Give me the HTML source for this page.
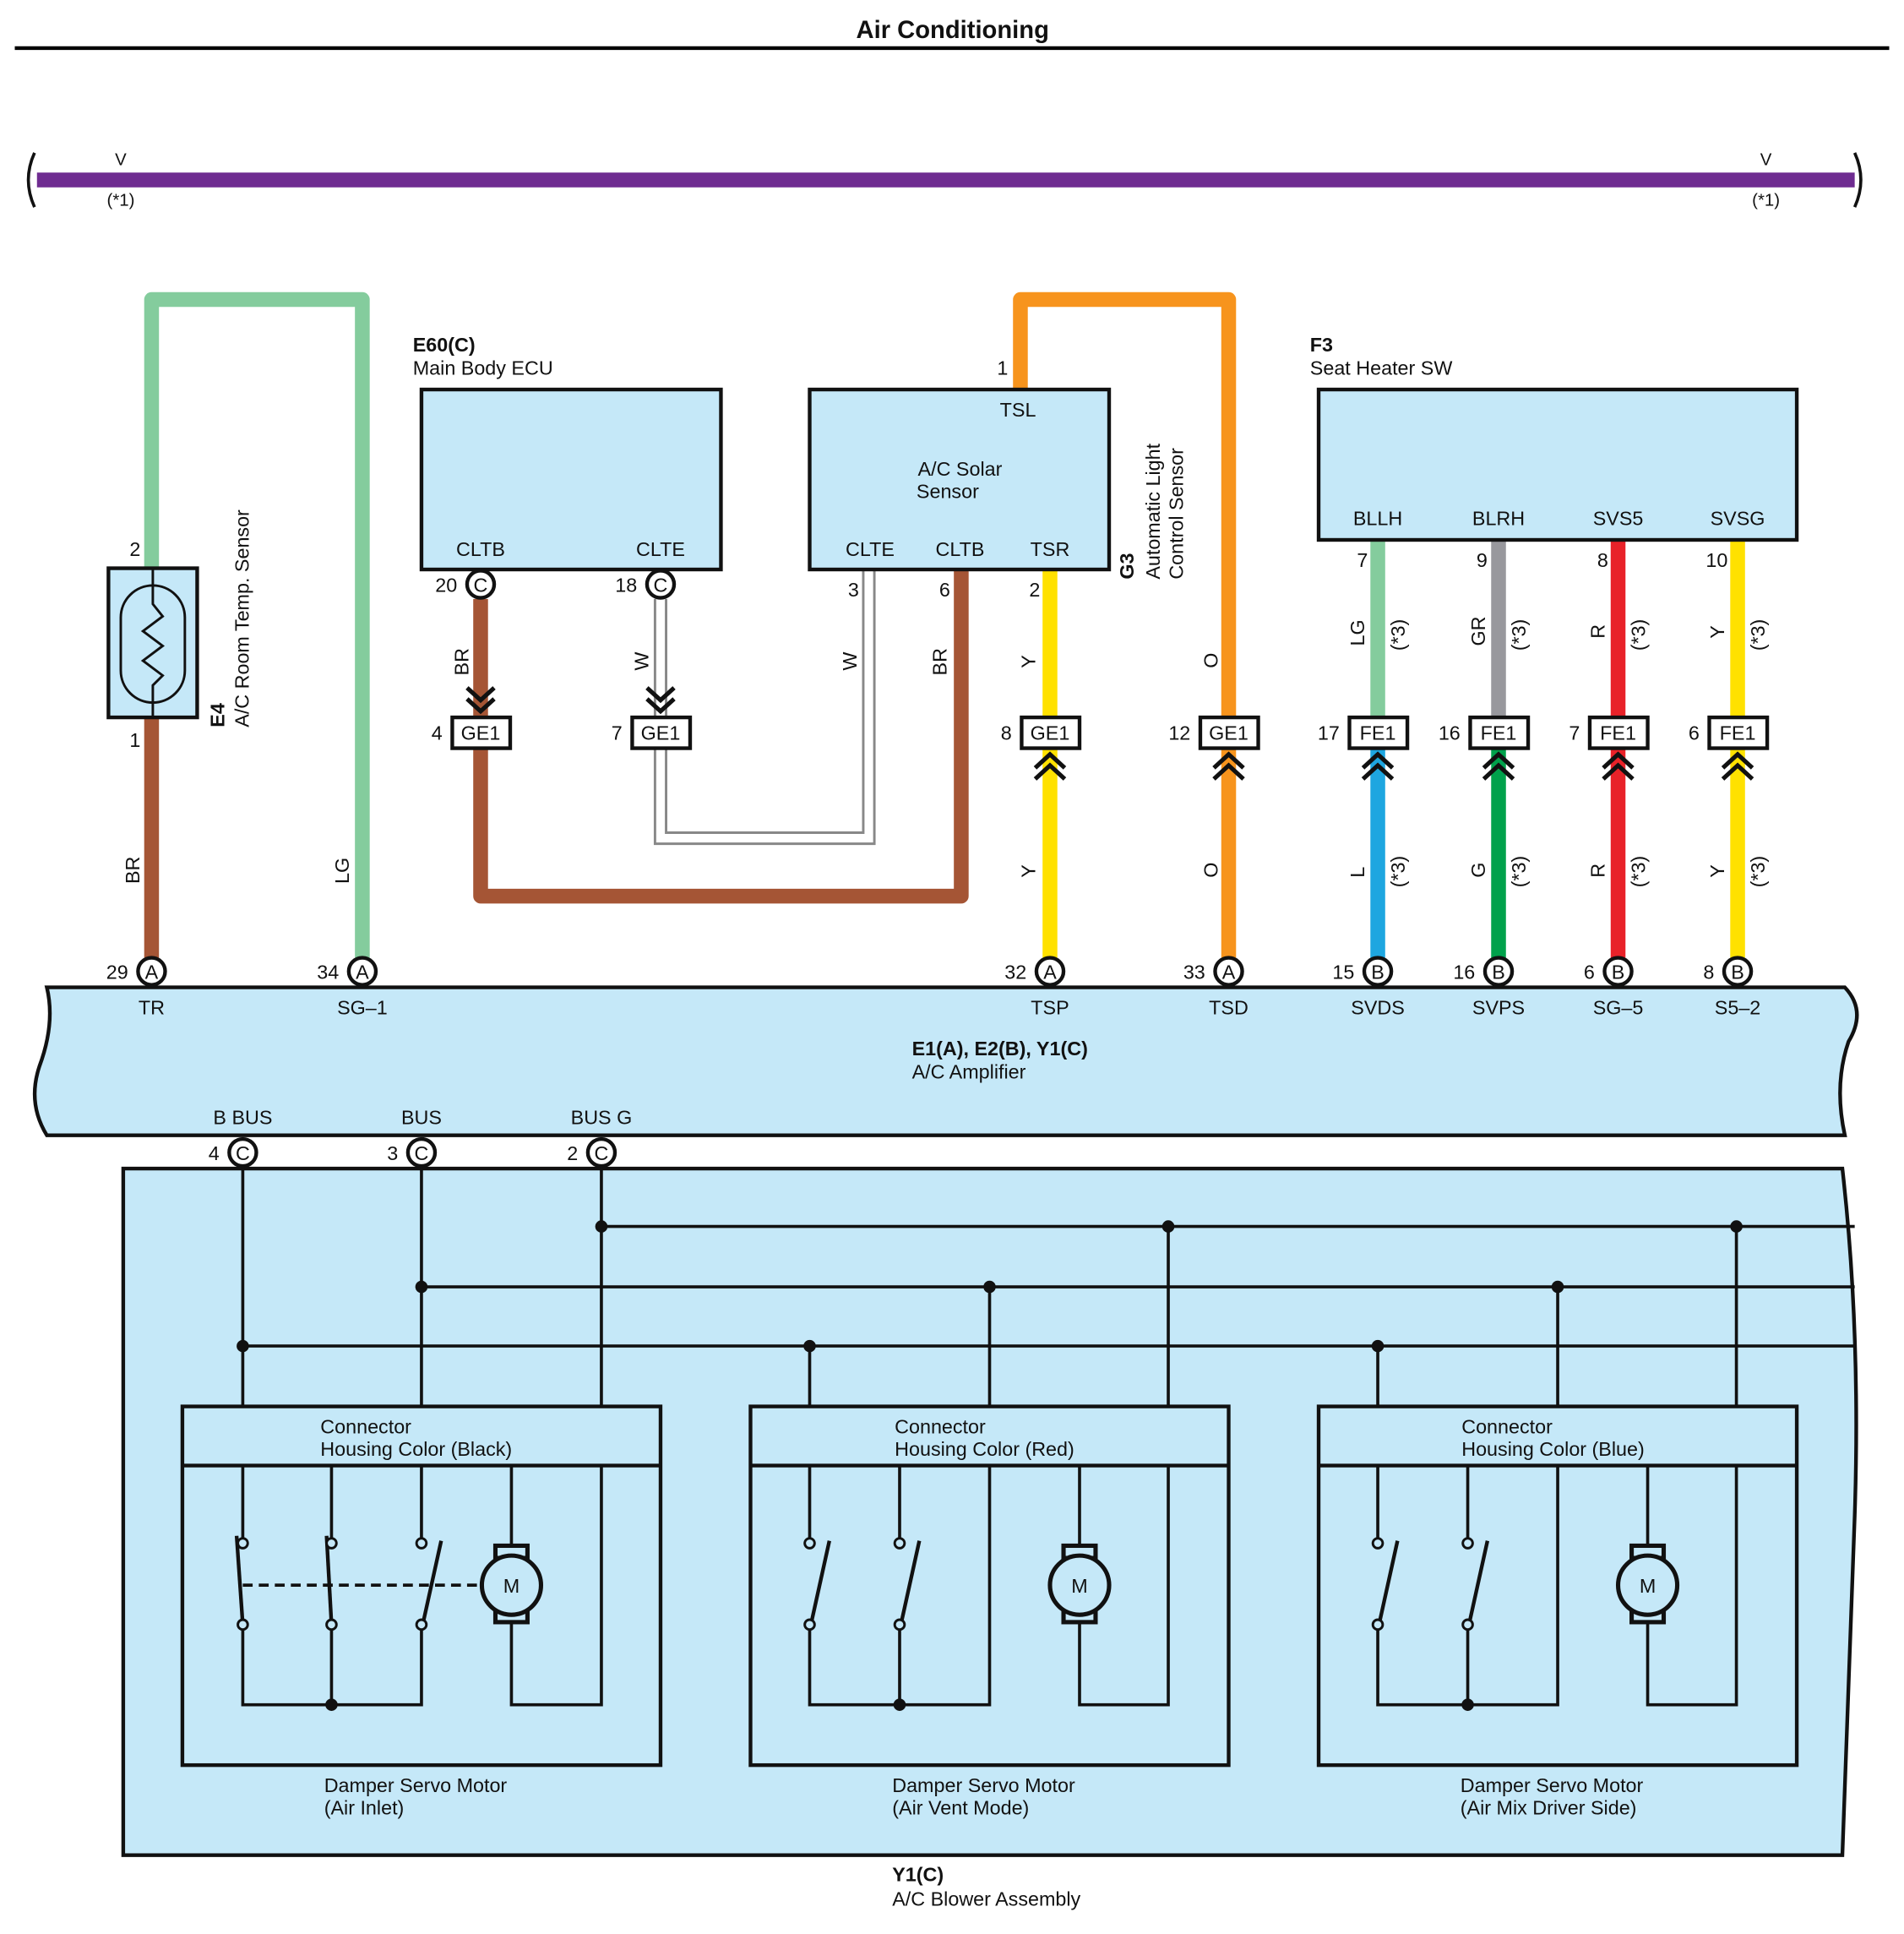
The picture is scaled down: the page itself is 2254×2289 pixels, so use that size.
<!DOCTYPE html>
<html><head><meta charset="utf-8"><style>
html,body{margin:0;padding:0;background:#fff}
svg{display:block}
text{font-family:"Liberation Sans",sans-serif;font-size:16px;fill:#111}
.b{font-weight:bold}
.m{text-anchor:middle}
.e{text-anchor:end}
</style></head><body>
<svg width="2254" height="2289" viewBox="0 0 1545 1569" xmlns="http://www.w3.org/2000/svg">
<text x="773" y="31" class="b m" style="font-size:20px">Air Conditioning</text>
<line x1="12" y1="39" x2="1533" y2="39" stroke="#000" stroke-width="3"/>
<!-- purple bus -->
<line x1="30" y1="146" x2="1505" y2="146" stroke="#6f2c91" stroke-width="12"/>
<path d="M28,124 Q18,146 28,168" fill="none" stroke="#111" stroke-width="2.5"/>
<path d="M1505,124 Q1515,146 1505,168" fill="none" stroke="#111" stroke-width="2.5"/>
<text x="98" y="134" class="m" style="font-size:14px">V</text>
<text x="98" y="167" class="m" style="font-size:14px">(*1)</text>
<text x="1433" y="134" class="m" style="font-size:14px">V</text>
<text x="1433" y="167" class="m" style="font-size:14px">(*1)</text>

<!-- wires -->
<g fill="none" stroke-width="12" stroke-linejoin="round">
<path d="M123,461 V243 H294 V788" stroke="#84cc9d"/>
<path d="M123,582 V788" stroke="#a55535"/>
<path d="M828,316 V243 H997 V788" stroke="#f7941d"/>
<path d="M852,462 V788" stroke="#ffe100"/>
<path d="M390,486 V582" stroke="#a55535"/>
<path d="M390,607 V727 H780 V462" stroke="#a55535"/>
<path d="M1118,438 V582" stroke="#84cc9d"/>
<path d="M1216,438 V582" stroke="#98989d"/>
<path d="M1313,438 V582" stroke="#e82229"/>
<path d="M1410,438 V582" stroke="#ffe100"/>
<path d="M1118,607 V788" stroke="#1ea6e0"/>
<path d="M1216,607 V788" stroke="#00a14b"/>
<path d="M1313,607 V788" stroke="#e82229"/>
<path d="M1410,607 V788" stroke="#ffe100"/>
</g>
<g fill="none">
<path d="M536,486 V582" stroke="#888" stroke-width="11"/>
<path d="M536,486 V582" stroke="#fff" stroke-width="7"/>
<path d="M536,607 V680 H705 V462" stroke="#888" stroke-width="11"/>
<path d="M536,607 V680 H705 V462" stroke="#fff" stroke-width="7"/>
</g>

<!-- E4 sensor -->
<rect x="88" y="461" width="72" height="121" fill="#c5e8f8" stroke="#111" stroke-width="3"/>
<rect x="98" y="475" width="52" height="95" rx="26" fill="none" stroke="#111" stroke-width="2"/>
<path d="M124,461 V490 L132,500 L116,512 L132,524 L116,536 L132,548 L124,556 V582" fill="none" stroke="#111" stroke-width="2"/>
<text x="114" y="451" class="e">2</text>
<text x="114" y="606" class="e">1</text>
<text transform="translate(113,717) rotate(-90)">BR</text>
<text transform="translate(283,717) rotate(-90)">LG</text>
<text transform="translate(182,590) rotate(-90)" class="b">E4</text>
<text transform="translate(202,590) rotate(-90)">A/C Room Temp.  Sensor</text>

<!-- E60 -->
<text x="335" y="285" class="b">E60(C)</text>
<text x="335" y="304">Main Body ECU</text>
<rect x="342" y="316" width="243" height="146" fill="#c5e8f8" stroke="#111" stroke-width="3"/>
<text x="390" y="451" class="m">CLTB</text>
<text x="536" y="451" class="m">CLTE</text>

<!-- Solar -->
<rect x="657" y="316" width="243" height="146" fill="#c5e8f8" stroke="#111" stroke-width="3"/>
<text x="818" y="304" class="e">1</text>
<text x="826" y="338" class="m">TSL</text>
<text x="779" y="386" class="m">A/C Solar</text>
<text x="769" y="404" class="m">Sensor</text>
<text x="706" y="451" class="m">CLTE</text>
<text x="779" y="451" class="m">CLTB</text>
<text x="852" y="451" class="m">TSR</text>
<text x="697" y="484" class="e">3</text>
<text x="771" y="484" class="e">6</text>
<text x="844" y="484" class="e">2</text>
<text transform="translate(920,470) rotate(-90)" class="b">G3</text>
<text transform="translate(941,470) rotate(-90)">Automatic Light</text>
<text transform="translate(960,470) rotate(-90)">Control Sensor</text>

<!-- F3 -->
<text x="1063" y="285" class="b">F3</text>
<text x="1063" y="304">Seat Heater SW</text>
<rect x="1070" y="316" width="388" height="122" fill="#c5e8f8" stroke="#111" stroke-width="3"/>
<text x="1118" y="426" class="m">BLLH</text>
<text x="1216" y="426" class="m">BLRH</text>
<text x="1313" y="426" class="m">SVS5</text>
<text x="1410" y="426" class="m">SVSG</text>
<text x="1110" y="460" class="e">7</text>
<text x="1207" y="460" class="e">9</text>
<text x="1305" y="460" class="e">8</text>
<text x="1402" y="460" class="e">10</text>

<!-- wire color labels -->
<g style="font-size:15px">
<text transform="translate(380,548) rotate(-90)">BR</text>
<text transform="translate(526,544) rotate(-90)">W</text>
<text transform="translate(695,544) rotate(-90)">W</text>
<text transform="translate(768,548) rotate(-90)">BR</text>
<text transform="translate(840,542) rotate(-90)">Y</text>
<text transform="translate(840,712) rotate(-90)">Y</text>
<text transform="translate(988,542) rotate(-90)">O</text>
<text transform="translate(988,712) rotate(-90)">O</text>
<text transform="translate(1107,524) rotate(-90)">LG</text>
<text transform="translate(1205,524) rotate(-90)">GR</text>
<text transform="translate(1302,518) rotate(-90)">R</text>
<text transform="translate(1399,518) rotate(-90)">Y</text>
<text transform="translate(1107,712) rotate(-90)">L</text>
<text transform="translate(1205,712) rotate(-90)">G</text>
<text transform="translate(1302,712) rotate(-90)">R</text>
<text transform="translate(1399,712) rotate(-90)">Y</text>
<text transform="translate(1140,528) rotate(-90)">(*3)</text>
<text transform="translate(1238,528) rotate(-90)">(*3)</text>
<text transform="translate(1335,528) rotate(-90)">(*3)</text>
<text transform="translate(1432,528) rotate(-90)">(*3)</text>
<text transform="translate(1140,720) rotate(-90)">(*3)</text>
<text transform="translate(1238,720) rotate(-90)">(*3)</text>
<text transform="translate(1335,720) rotate(-90)">(*3)</text>
<text transform="translate(1432,720) rotate(-90)">(*3)</text>
</g>

<!-- chevrons down (E60 side) -->
<g fill="none" stroke="#111" stroke-width="3.5">
<path d="M379,558 L390,568 L401,558 M379,567 L390,577 L401,567"/>
<path d="M525,558 L536,568 L547,558 M525,567 L536,577 L547,567"/>
</g>
<!-- chevrons up -->
<g fill="none" stroke="#111" stroke-width="3.5">
<path d="M840,623 L852,612 L864,623 M840,632 L852,621 L864,632"/>
<path d="M985,623 L997,612 L1009,623 M985,632 L997,621 L1009,632"/>
<path d="M1106,623 L1118,612 L1130,623 M1106,632 L1118,621 L1130,632"/>
<path d="M1204,623 L1216,612 L1228,623 M1204,632 L1216,621 L1228,632"/>
<path d="M1301,623 L1313,612 L1325,623 M1301,632 L1313,621 L1325,632"/>
<path d="M1398,623 L1410,612 L1422,623 M1398,632 L1410,621 L1422,632"/>
</g>

<!-- connector boxes -->
<g fill="#fff" stroke="#111" stroke-width="3">
<rect x="367" y="582" width="47" height="25"/>
<rect x="513" y="582" width="47" height="25"/>
<rect x="829" y="582" width="47" height="25"/>
<rect x="974" y="582" width="47" height="25"/>
<rect x="1095" y="582" width="47" height="25"/>
<rect x="1193" y="582" width="47" height="25"/>
<rect x="1290" y="582" width="47" height="25"/>
<rect x="1387" y="582" width="47" height="25"/>
</g>
<g style="font-size:16px">
<text x="390" y="600" class="m">GE1</text><text x="359" y="600" class="e">4</text>
<text x="536" y="600" class="m">GE1</text><text x="505" y="600" class="e">7</text>
<text x="852" y="600" class="m">GE1</text><text x="821" y="600" class="e">8</text>
<text x="997" y="600" class="m">GE1</text><text x="966" y="600" class="e">12</text>
<text x="1118" y="600" class="m">FE1</text><text x="1087" y="600" class="e">17</text>
<text x="1216" y="600" class="m">FE1</text><text x="1185" y="600" class="e">16</text>
<text x="1313" y="600" class="m">FE1</text><text x="1282" y="600" class="e">7</text>
<text x="1410" y="600" class="m">FE1</text><text x="1379" y="600" class="e">6</text>
</g>

<!-- E60 pins -->
<g fill="#fff" stroke="#111" stroke-width="3">
<circle cx="390" cy="474" r="11"/><circle cx="536" cy="474" r="11"/>
</g>
<text x="390" y="480" class="m">C</text><text x="536" y="480" class="m">C</text>
<text x="371" y="480" class="e">20</text><text x="517" y="480" class="e">18</text>

<!-- amplifier -->
<path d="M38,801 H1497 Q1515,820 1500,845 Q1488,880 1497,921 H38 Q22,895 32,865 Q45,830 38,801 Z" fill="#c5e8f8" stroke="#111" stroke-width="3"/>
<g fill="#fff" stroke="#111" stroke-width="3">
<circle cx="123" cy="788" r="11"/><circle cx="294" cy="788" r="11"/><circle cx="852" cy="788" r="11"/><circle cx="997" cy="788" r="11"/>
<circle cx="1118" cy="788" r="11"/><circle cx="1216" cy="788" r="11"/><circle cx="1313" cy="788" r="11"/><circle cx="1410" cy="788" r="11"/>
<circle cx="197" cy="935" r="11"/><circle cx="342" cy="935" r="11"/><circle cx="488" cy="935" r="11"/>
</g>
<g>
<text x="123" y="794" class="m">A</text><text x="294" y="794" class="m">A</text><text x="852" y="794" class="m">A</text><text x="997" y="794" class="m">A</text>
<text x="1118" y="794" class="m">B</text><text x="1216" y="794" class="m">B</text><text x="1313" y="794" class="m">B</text><text x="1410" y="794" class="m">B</text>
<text x="197" y="941" class="m">C</text><text x="342" y="941" class="m">C</text><text x="488" y="941" class="m">C</text>
<text x="104" y="794" class="e">29</text><text x="275" y="794" class="e">34</text><text x="833" y="794" class="e">32</text><text x="978" y="794" class="e">33</text>
<text x="1099" y="794" class="e">15</text><text x="1197" y="794" class="e">16</text><text x="1294" y="794" class="e">6</text><text x="1391" y="794" class="e">8</text>
<text x="178" y="941" class="e">4</text><text x="323" y="941" class="e">3</text><text x="469" y="941" class="e">2</text>
<text x="123" y="823" class="m">TR</text><text x="294" y="823" class="m">SG–1</text><text x="852" y="823" class="m">TSP</text><text x="997" y="823" class="m">TSD</text>
<text x="1118" y="823" class="m">SVDS</text><text x="1216" y="823" class="m">SVPS</text><text x="1313" y="823" class="m">SG–5</text><text x="1410" y="823" class="m">S5–2</text>
<text x="740" y="856" class="b">E1(A), E2(B), Y1(C)</text>
<text x="740" y="875">A/C Amplifier</text>
<text x="197" y="912" class="m">B BUS</text><text x="342" y="912" class="m">BUS</text><text x="488" y="912" class="m">BUS G</text>
</g>

<!-- Y1 box -->
<path d="M100,948 H1495 Q1510,1080 1505,1230 Q1500,1380 1495,1505 H100 Z" fill="#c5e8f8" stroke="#111" stroke-width="3"/>
<text x="724" y="1526" class="b">Y1(C)</text>
<text x="724" y="1546">A/C Blower Assembly</text>
<g fill="none" stroke="#111" stroke-width="2.5">
<path d="M197,946 V1141 M342,946 V1141 M488,946 V1141"/>
<path d="M488,995 H1505 M342,1044 H1505 M197,1092 H1505"/>
<path d="M657,1092 V1141 M803,1044 V1141 M948,995 V1141"/>
<path d="M1118,1092 V1141 M1264,1044 V1141 M1409,995 V1141"/>
</g>
<g fill="#111">
<circle cx="488" cy="995" r="5"/><circle cx="948" cy="995" r="5"/><circle cx="1409" cy="995" r="5"/>
<circle cx="342" cy="1044" r="5"/><circle cx="803" cy="1044" r="5"/><circle cx="1264" cy="1044" r="5"/>
<circle cx="197" cy="1092" r="5"/><circle cx="657" cy="1092" r="5"/><circle cx="1118" cy="1092" r="5"/>
</g>

<!-- sub boxes -->
<g fill="none" stroke="#111" stroke-width="3">
<rect x="148" y="1141" width="388" height="291"/><line x1="148" y1="1189" x2="536" y2="1189"/>
<rect x="609" y="1141" width="388" height="291"/><line x1="609" y1="1189" x2="997" y2="1189"/>
<rect x="1070" y="1141" width="388" height="291"/><line x1="1070" y1="1189" x2="1458" y2="1189"/>
</g>
<text x="260" y="1163">Connector</text><text x="260" y="1181">Housing Color (Black)</text>
<text x="726" y="1163">Connector</text><text x="726" y="1181">Housing Color (Red)</text>
<text x="1186" y="1163">Connector</text><text x="1186" y="1181">Housing Color (Blue)</text>
<text x="263" y="1454">Damper Servo Motor</text><text x="263" y="1472">(Air Inlet)</text>
<text x="724" y="1454">Damper Servo Motor</text><text x="724" y="1472">(Air Vent Mode)</text>
<text x="1185" y="1454">Damper Servo Motor</text><text x="1185" y="1472">(Air Mix Driver Side)</text>

<!-- group 1 interior -->
<g fill="none" stroke="#111" stroke-width="2.5">
<path d="M197,1189 V1248 M269,1189 V1248 M342,1189 V1248"/>
<path d="M197,1322 V1383 H342 V1322 M269,1322 V1383"/>
<path d="M415,1189 V1256 M415,1315 V1383 H488 V1189"/>
<path d="M197,1286 H390" stroke-dasharray="8,5"/>
</g>
<g fill="none" stroke="#111" stroke-width="3">
<path d="M192,1246 L197,1318"/><path d="M265,1246 L269,1318"/><path d="M358,1250 L343,1318"/>
</g>
<!-- group 2 -->
<g fill="none" stroke="#111" stroke-width="2.5">
<path d="M657,1189 V1248 M730,1189 V1248"/>
<path d="M657,1322 V1383 H803 V1189 M730,1322 V1383"/>
<path d="M876,1189 V1256 M876,1315 V1383 H948 V1189"/>
<path d="M1118,1189 V1248 M1191,1189 V1248"/>
<path d="M1118,1322 V1383 H1264 V1189 M1191,1322 V1383"/>
<path d="M1337,1189 V1256 M1337,1315 V1383 H1409 V1189"/>
</g>
<g fill="none" stroke="#111" stroke-width="3">
<path d="M673,1250 L658,1318"/><path d="M746,1250 L731,1318"/>
<path d="M1134,1250 L1119,1318"/><path d="M1207,1250 L1192,1318"/>
</g>
<g fill="#c5e8f8" stroke="#111" stroke-width="2">
<circle cx="197" cy="1252" r="4"/><circle cx="197" cy="1318" r="4"/>
<circle cx="269" cy="1252" r="4"/><circle cx="269" cy="1318" r="4"/>
<circle cx="342" cy="1252" r="4"/><circle cx="342" cy="1318" r="4"/>
<circle cx="657" cy="1252" r="4"/><circle cx="657" cy="1318" r="4"/>
<circle cx="730" cy="1252" r="4"/><circle cx="730" cy="1318" r="4"/>
<circle cx="1118" cy="1252" r="4"/><circle cx="1118" cy="1318" r="4"/>
<circle cx="1191" cy="1252" r="4"/><circle cx="1191" cy="1318" r="4"/>
</g>
<g fill="#111">
<circle cx="269" cy="1383" r="5"/><circle cx="730" cy="1383" r="5"/><circle cx="1191" cy="1383" r="5"/>
</g>
<!-- motors -->
<g fill="#c5e8f8" stroke="#111" stroke-width="3.5">
<rect x="402" y="1254" width="26" height="10"/><rect x="402" y="1306" width="26" height="10"/><circle cx="415" cy="1286" r="24"/>
<rect x="863" y="1254" width="26" height="10"/><rect x="863" y="1306" width="26" height="10"/><circle cx="876" cy="1286" r="24"/>
<rect x="1324" y="1254" width="26" height="10"/><rect x="1324" y="1306" width="26" height="10"/><circle cx="1337" cy="1286" r="24"/>
</g>
<text x="415" y="1292" class="m">M</text><text x="876" y="1292" class="m">M</text><text x="1337" y="1292" class="m">M</text>
</svg>
</body></html>
